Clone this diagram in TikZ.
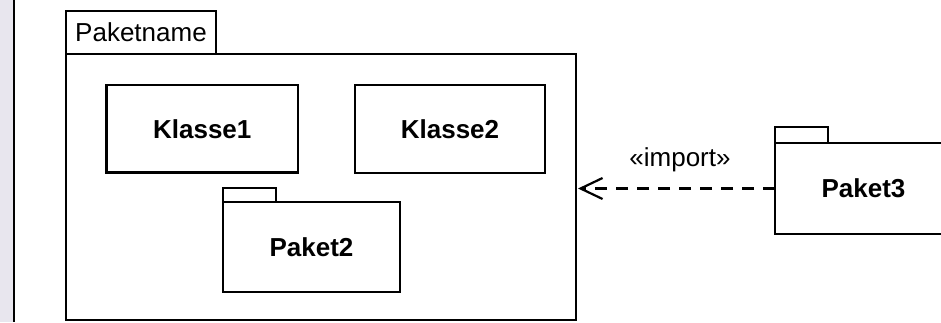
\documentclass[tikz,border=0pt]{standalone}
\usepackage{fontspec}
\setmainfont{Liberation Sans}
\usetikzlibrary{arrows.meta}
\definecolor{stripcol}{HTML}{E8E6EE}
\begin{document}
\begin{tikzpicture}[x=1pt,y=-1pt,
  box/.style={draw=black,line width=2.2pt,fill=white,inner sep=0pt,outer sep=0pt,font=\fontsize{26}{30}\selectfont},
  lbl/.style={inner sep=0pt,font=\fontsize{26}{30}\selectfont},
  dep/.style={line width=2.2pt,dash pattern=on 12pt off 9pt,-{Straight Barb[length=22pt,width=21pt,line width=2.2pt]}}]
\useasboundingbox (0,0) rectangle (941,322);
\fill[stripcol] (0,0) rectangle (12.5,322);
\draw[line width=2pt] (13.5,0) -- (13.5,322);
% outer package
\node[box,minimum width=150pt,minimum height=43pt] (tab) at (141,32.5) {Paketname};
\node[box,minimum width=510pt,minimum height=266pt] (pk) at (321,187) {};
% classes
\node[box,minimum width=191.5pt,minimum height=87.5pt] (k1) at (202.25,128.75) {\bfseries Klasse1};
\node[box,minimum width=190pt,minimum height=88pt] (k2) at (450,129) {\bfseries Klasse2};
% Paket2
\node[box,minimum width=53pt,minimum height=14pt] (p2tab) at (249.5,195) {};
\node[box,minimum width=177pt,minimum height=90pt] (p2) at (311.5,247) {\bfseries Paket2};
% Paket3
\node[box,minimum width=53pt,minimum height=16pt] (p3tab) at (801.5,135) {};
\node[box,minimum width=177pt,minimum height=91pt] (p3) at (863.5,188.5) {\bfseries Paket3};
% import dependency
\draw[dep,shorten >=2pt] (p3.west) -- (pk.east |- p3.west);
\node[lbl] (imp) at (680,160) {«import»};
\end{tikzpicture}
\end{document}
